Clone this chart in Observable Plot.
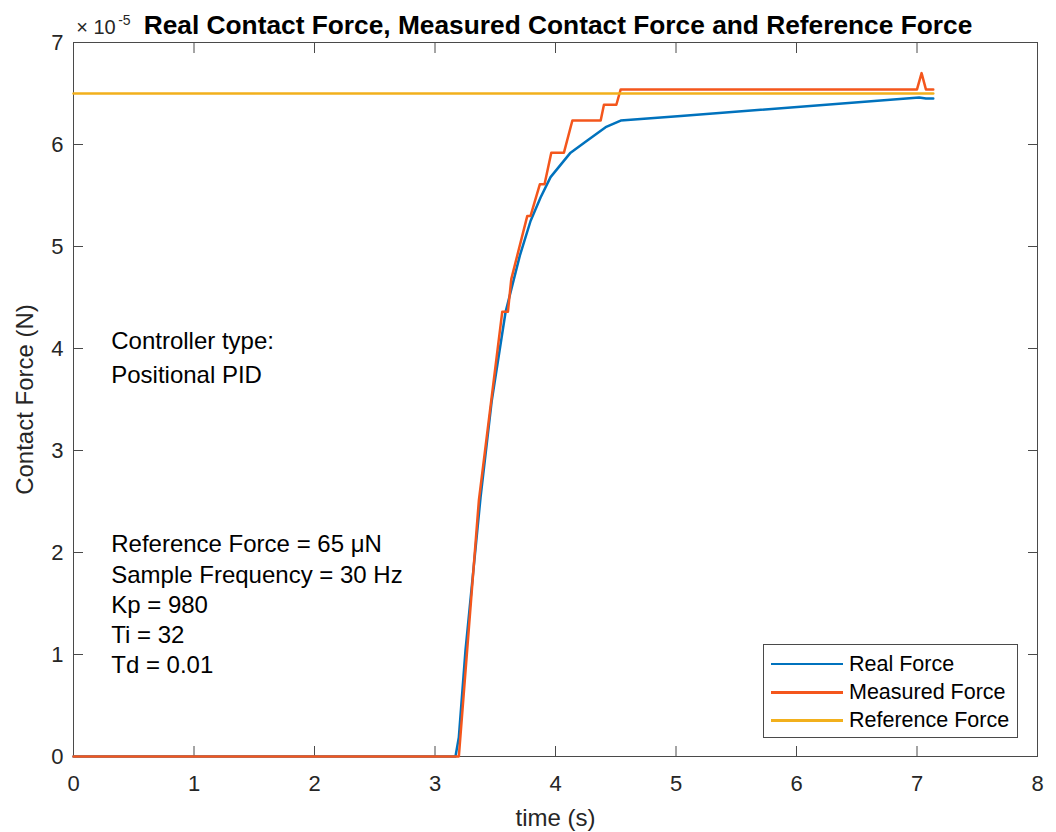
<!DOCTYPE html>
<html>
<head>
<meta charset="utf-8">
<script src="https://cdn.jsdelivr.net/npm/d3@7"></script>
<script src="https://cdn.jsdelivr.net/npm/@observablehq/plot@0.6"></script>
<style>
  body { margin: 0; background: #fff; }
  #wrap { position: relative; width: 1056px; height: 832px; }
  .legend { position: absolute; left: 763px; top: 644px; width: 255px; height: 94px; box-sizing: border-box;
            border: 1px solid #4a4a4a; background: #fff; font: 21.5px "Liberation Sans", Arial, sans-serif; color: #000; }
  .legend .row { position: absolute; left: 0; width: 100%; height: 28px; }
  .legend .sw { position: absolute; left: 7px; width: 72px; height: 2.5px; top: 13px; }
  .legend .lb { position: absolute; left: 85px; top: 0; line-height: 28px; white-space: nowrap; }
</style>
</head>
<body>
<div id="wrap"></div>
<script>
// ---- data (force values in units of 1e-5 N) ----
const seriesNames = ["Real Force", "Measured Force", "Reference Force"];
const seriesColors = ["#0072BD", "#F4561C", "#F2B01C"];

const realTime  = [0, 3.17, 3.198, 3.253, 3.378, 3.47, 3.586, 3.704, 3.793, 3.876, 3.959, 4.125, 4.264, 4.416, 4.541, 5.04, 7.018, 7.074, 7.135];
const realForce = [0, 0,    0.19,  1.04,  2.54,  3.48, 4.36,  4.91,  5.25,  5.48,  5.68,  5.92,  6.04,  6.17,  6.235, 6.28, 6.46,  6.45,  6.45];

const measTime  = [0, 3.198, 3.364, 3.558, 3.605, 3.633, 3.766, 3.793, 3.870, 3.909, 3.965, 4.070, 4.140, 4.375, 4.402, 4.505, 4.541, 7.000, 7.038, 7.074, 7.135];
const measForce = [0, 0,     2.51,  4.36,  4.36,  4.68,  5.30,  5.30,  5.61,  5.61,  5.92,  5.92,  6.235, 6.235, 6.39,  6.39,  6.54,  6.54,  6.70,  6.54,  6.54];

const refTime  = [0, 7.135];
const refForce = [6.5, 6.5];

const xTicks = [0, 1, 2, 3, 4, 5, 6, 7, 8];
const yTicks = [0, 1, 2, 3, 4, 5, 6, 7];

const title = "Real Contact Force, Measured Contact Force and Reference Force";
const xLabel = "time (s)";
const yLabel = "Contact Force (N)";
const exponentBase = "× 10";
const exponentPower = "-5";

const noteLines = ["Controller type:", "Positional PID",
  "Reference Force = 65 μN", "Sample Frequency = 30 Hz", "Kp = 980", "Ti = 32", "Td = 0.01"];
const noteX = 0.313;
const noteY = [4.066, 3.742, 2.078, 1.775, 1.480, 1.186, 0.892];

// ---- build tables ----
const toRows = (ts, fs, name) => ts.map((t, i) => ({ t, f: fs[i], series: name }));
const realRows = toRows(realTime, realForce, seriesNames[0]);
const measRows = toRows(measTime, measForce, seriesNames[1]);
const refRows  = toRows(refTime, refForce, seriesNames[2]);
const notes = noteLines.map((text, i) => ({ text, x: noteX, y: noteY[i] }));

const font = '"Liberation Sans", Arial, Helvetica, sans-serif';
const axisColor = "#4a4a4a";
const intFmt = d => String(d);

const chart = Plot.plot({
  width: 1056,
  height: 832,
  marginLeft: 73,
  marginRight: 19,
  marginTop: 42,
  marginBottom: 76,
  style: { fontFamily: font, fontSize: "22px", color: "#262626", background: "#fff", overflow: "visible" },
  x: { domain: [0, 8] },
  y: { domain: [0, 7] },
  color: { domain: seriesNames, range: seriesColors },
  marks: [
    Plot.frame({ stroke: axisColor, strokeWidth: 1 }),
    Plot.axisX({ ticks: xTicks, anchor: "bottom", tickSize: -10, tickPadding: 29, stroke: axisColor, tickFormat: intFmt, label: null, fontSize: 22 }),
    Plot.axisX({ ticks: xTicks, anchor: "top", tickSize: -10, stroke: axisColor, tickFormat: () => "", label: null }),
    Plot.axisY({ ticks: yTicks, anchor: "left", tickSize: -10, tickPadding: 20, stroke: axisColor, tickFormat: intFmt, label: null, fontSize: 22 }),
    Plot.axisY({ ticks: yTicks, anchor: "right", tickSize: -10, stroke: axisColor, tickFormat: () => "", label: null }),

    Plot.line(realRows, { x: "t", y: "f", stroke: "series", strokeWidth: 2.5, strokeLinejoin: "round" }),
    Plot.line(measRows, { x: "t", y: "f", stroke: "series", strokeWidth: 2.5, strokeLinejoin: "round" }),
    Plot.line(refRows,  { x: "t", y: "f", stroke: "series", strokeWidth: 2.5 }),

    Plot.text(notes, { x: "x", y: "y", text: "text", textAnchor: "start", lineAnchor: "middle", fontSize: 24, fill: "#000" }),

    Plot.text([title], { frameAnchor: "top", dx: 2.5, dy: -16.7, textAnchor: "middle", lineAnchor: "middle", fontSize: 26.3, fontWeight: "bold", fill: "#000" }),
    Plot.text([exponentBase], { frameAnchor: "top-left", dx: 2.7, dy: -14.5, textAnchor: "start", lineAnchor: "middle", fontSize: 20, fill: "#262626" }),
    Plot.text([exponentPower], { frameAnchor: "top-left", dx: 44.7, dy: -21.5, textAnchor: "start", lineAnchor: "middle", fontSize: 14, fill: "#262626" }),
    Plot.text([xLabel], { frameAnchor: "bottom", dy: 62, textAnchor: "middle", lineAnchor: "middle", fontSize: 24, fill: "#262626" }),
    Plot.text([yLabel], { frameAnchor: "left", dx: -48.3, rotate: -90, textAnchor: "middle", lineAnchor: "middle", fontSize: 24, fill: "#262626" })
  ]
});

const wrap = document.getElementById("wrap");
wrap.appendChild(chart);

// legend box (lower right, inside axes)
const legend = document.createElement("div");
legend.className = "legend";
const rowTops = [4.7, 33, 61.3];
seriesNames.forEach((name, i) => {
  const row = document.createElement("div");
  row.className = "row";
  row.style.top = rowTops[i] + "px";
  const sw = document.createElement("div");
  sw.className = "sw";
  sw.style.background = seriesColors[i];
  const lb = document.createElement("div");
  lb.className = "lb";
  lb.textContent = name;
  row.appendChild(sw);
  row.appendChild(lb);
  legend.appendChild(row);
});
wrap.appendChild(legend);
</script>
</body>
</html>
